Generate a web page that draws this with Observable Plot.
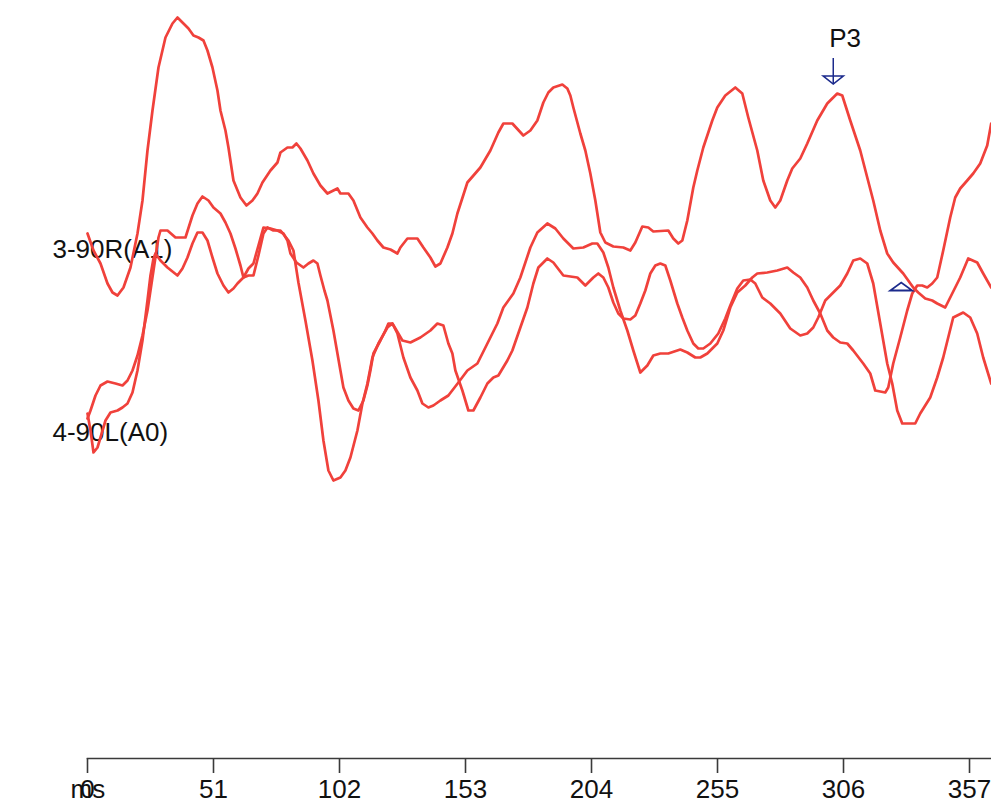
<!DOCTYPE html>
<html>
<head>
<meta charset="utf-8">
<script src="https://cdn.jsdelivr.net/npm/d3@7"></script>
<script src="https://cdn.jsdelivr.net/npm/@observablehq/plot@0.6"></script>
<style>
  html, body { margin: 0; padding: 0; background: #fff; overflow: hidden; }
  svg { display: block; }
</style>
</head>
<body>
<div id="chart"></div>
<script>
// ---- data ----
// sampling interval (ms per sample)
const SAMPLE_MS = 357 / 882.3;
const tickValues = [0, 51, 102, 153, 204, 255, 306, 357];
const axisUnit = "ms";
const channelLabels = ["3-90R(A1)", "4-90L(A0)"];
const channelOffsets = [0, -18.3];

// trace 1: 3-90R(A1)  (sample index, amplitude)
const samplesR = [0,6,13,20,25,30,36,43,50,55,60,65,71,78,85,90,96,101,106,111,116,120,125,130,133,138,141,146,153,159,165,170,175,183,190,193,200,205,209,213,220,226,233,240,246,250,253,261,266,273,280,285,290,296,303,310,313,320,326,330,336,343,348,353,360,365,370,380,393,403,411,416,425,436,443,450,456,461,466,475,480,483,486,493,498,503,508,513,518,526,536,543,548,555,561,566,581,586,591,595,600,606,610,616,625,630,638,648,655,661,670,676,683,688,693,700,705,713,720,730,740,750,755,763,773,780,786,793,800,806,816,826,831,838,845,850,858,865,873,881,890,896,904];
const ampR = [1.6,-0.1,-1.4,-3.4,-4.3,-4.6,-3.8,-1.8,1.6,4.9,9.9,13.9,18.2,21.2,22.6,23.2,22.6,22.1,21.4,21.2,20.9,19.9,18.2,15.9,13.9,11.9,10.2,6.9,5.2,4.4,4.9,5.6,6.7,7.9,8.7,9.7,10.2,10.2,10.6,10.1,8.9,7.6,6.4,5.6,5.9,6.1,5.6,5.6,4.9,3.2,2.2,1.6,0.9,0.2,0,-0.4,0.2,1.1,1.1,1.1,0.2,-0.8,-1.7,-1.4,0.2,1.6,3.6,6.7,8.2,9.9,11.7,12.6,12.6,11.4,11.9,12.9,14.7,15.7,16.2,16.5,16.1,15.4,14.2,11.6,9.9,7.6,4.9,1.7,0.7,0.3,0.2,-0.1,0.7,2.3,2.2,1.8,1.9,1.1,0.6,0.9,2.9,6.2,7.9,10.2,12.9,14.2,15.4,16.2,15.6,13.2,9.9,6.9,4.9,4.2,4.9,6.9,8.1,9.1,10.6,12.9,14.6,15.6,15.4,12.9,9.9,7.2,4.9,1.9,-0.4,-1.3,-2.4,-3.8,-4.3,-4.9,-5.1,-5.4,-5.8,-4.4,-2.8,-0.9,-1.3,-2.4,-3.8];

// trace 2: 4-90L(A0), first sweep
const samplesL1 = [0,3,8,13,20,28,35,40,45,50,55,60,63,66,69,71,73,80,88,98,105,110,115,121,126,133,138,143,148,153,156,161,166,171,176,180,186,193,201,206,211,218,225,231,236,241,246,253,258,263,270,275,280,285,291,300,305,310,316,323,330,335,341,346,353,361,371,380,390,400,410,416,426,433,443,450,460,468,476,486,496,505,510,516,521,526,533,540,546,553,560,566,573,581,593,600,608,613,620,630,636,643,650,658,665,670,680,690,700,706,713,720,726,733,740,746,753,760,766,776,783,788,798,801,806,813,820,825,830,835,840,845,850,856,863,868,873,880,886,893,900,904];
const ampL1 = [1.4,2.2,3.7,4.7,5.1,4.9,4.7,5.2,6.2,7.7,9.7,12.2,14.2,16.2,18.2,19.5,20.2,20.2,19.5,19.5,21.7,22.9,23.6,23.2,22.5,21.9,21.0,19.9,18.4,16.7,15.5,15.7,15.7,17.7,19.9,20.5,20.2,20.2,19.2,18.2,15.0,11.2,7.2,3.2,-0.8,-3.8,-4.8,-4.5,-3.8,-2.5,0.2,2.9,4.9,7.5,8.9,10.5,10.9,9.9,7.5,5.5,4.2,2.9,2.5,2.7,3.2,3.7,5.0,6.2,6.9,8.9,10.9,12.5,13.9,15.5,18.5,20.0,20.9,20.4,19.4,18.4,18.5,18.9,18.9,18.0,16.5,14.5,12.2,10.2,8.2,6.0,6.7,7.7,7.9,7.9,8.3,8.0,7.5,7.5,7.9,8.9,10.2,12.5,14.0,14.7,15.5,15.9,16.0,16.2,16.5,16.0,15.5,14.5,13.2,11.9,10.2,9.5,9.0,8.9,8.2,6.9,5.9,4.2,4.0,4.5,6.9,9.5,12.2,13.9,14.7,14.7,14.5,14.9,15.5,18.2,21.5,23.5,24.4,25.2,25.9,26.9,28.7,30.9];

// trace 3: 4-90L(A0), second sweep
const samplesL2 = [0,3,6,10,13,18,23,30,35,40,45,50,55,60,63,66,68,73,80,90,95,100,105,110,115,120,125,130,136,141,146,150,156,161,166,171,176,183,190,196,200,203,209,216,221,226,230,233,237,240,246,253,256,261,266,271,276,280,283,286,293,298,301,305,308,315,323,333,343,350,356,361,365,368,375,381,386,393,400,406,411,420,425,433,440,446,451,460,466,476,490,498,506,511,516,521,526,531,536,543,548,553,558,563,568,573,578,583,590,595,600,606,611,616,623,631,638,643,650,656,663,668,675,683,693,703,713,720,726,731,738,743,753,760,766,773,780,786,793,800,805,810,815,828,833,843,850,856,861,866,876,883,890,896,904];
const ampL2 = [1.9,0.2,-2.0,-1.5,-0.5,1.2,2.0,2.2,2.5,2.9,4.0,6.2,9.2,13.2,15.7,17.4,17.9,17.2,16.5,15.7,16.4,17.5,18.9,20.0,20.0,19.2,17.5,15.9,14.7,14.0,14.4,14.9,15.5,16.4,16.9,18.7,20.5,20.4,20.2,19.9,19.2,17.9,17.0,16.5,16.9,17.2,16.9,15.7,14.2,13.2,10.2,6.2,4.5,3.2,2.4,2.2,3.2,4.7,6.2,7.9,9.2,10.2,10.9,10.9,10.4,9.2,9.0,9.5,10.2,10.9,10.7,8.9,7.9,6.2,4.2,2.2,2.2,3.5,4.9,5.5,5.7,7.2,8.2,10.5,12.5,14.9,16.5,17.4,17.0,15.7,15.5,14.7,15.5,15.9,15.5,14.5,13.0,11.9,11.4,11.3,11.7,12.9,14.2,15.9,16.7,16.9,16.7,15.2,12.9,11.5,10.2,8.9,8.4,8.4,8.9,9.9,11.4,12.7,14.4,15.2,15.3,14.9,13.5,12.9,11.9,10.4,9.7,9.9,10.5,11.5,13.2,13.7,14.7,15.9,17.2,17.4,16.9,14.9,10.9,6.9,4.9,2.2,0.9,0.9,1.9,3.5,5.5,7.5,9.5,11.5,12.0,11.5,9.9,7.5,4.9];

// peak markers (on trace 1)
const markerLabels = ["P3", ""];
const markerSamples = [746, 814];
const markerAmps = [16.95, -3.7];
const markerDirections = ["down", "up"];

// ---- build ----
const toRows = (samples, amps, offset, id) =>
  samples.map((n, i) => ({id, t: n * SAMPLE_MS, v: amps[i] + offset}));

const traces = [
  ...toRows(samplesR, ampR, channelOffsets[0], "R"),
  ...toRows(samplesL1, ampL1, channelOffsets[1], "L1"),
  ...toRows(samplesL2, ampL2, channelOffsets[1], "L2")
];

const markers = markerSamples.map((n, i) => ({
  t: n * SAMPLE_MS, v: markerAmps[i], label: markerLabels[i], dir: markerDirections[i]
}));

const labelRows = channelLabels.map((label, i) => ({label, v: channelOffsets[i]}));

const triUp = {draw(ctx) { ctx.moveTo(-11, 4); ctx.lineTo(11, 4); ctx.lineTo(0, -4); ctx.closePath(); }};
const triDown = {draw(ctx) { ctx.moveTo(-10, -4); ctx.lineTo(10, -4); ctx.lineTo(0, 4); ctx.closePath(); }};

const RED = "#f0413b";
const NAVY = "#1b2a8c";
const FONT = "'Liberation Sans', Arial, Helvetica, sans-serif";

const chart = Plot.plot({
  width: 991,
  height: 803,
  marginLeft: 87,
  marginRight: 0,
  marginTop: 0,
  marginBottom: 45,
  style: {fontFamily: FONT, background: "#fff", overflow: "visible"},
  x: {domain: [0, 365.9], ticks: tickValues, tickFormat: d => String(d)},
  y: {domain: [-50.9, 24.9], axis: null},
  marks: [
    Plot.frame({anchor: "bottom", stroke: "#3a3a3a", strokeWidth: 1.6}),
    Plot.axisX({
      ticks: tickValues,
      tickSize: 15,
      tickPadding: 6,
      fontSize: 26,
      stroke: "#3a3a3a",
      strokeWidth: 1.6,
      fill: "#111",
      label: null
    }),
    Plot.text([axisUnit], {
      text: d => d,
      frameAnchor: "bottom-left",
      textAnchor: "start",
      lineAnchor: "top",
      dx: -17,
      dy: 21,
      fontSize: 26,
      fill: "#111"
    }),
    Plot.text(labelRows, {
      y: "v",
      text: "label",
      frameAnchor: "left",
      textAnchor: "start",
      dx: -35,
      fontSize: 26,
      fill: "#111"
    }),
    Plot.line(traces, {
      x: "t",
      y: "v",
      z: "id",
      stroke: RED,
      strokeWidth: 2.7,
      strokeLinejoin: "round",
      strokeLinecap: "round"
    }),
    Plot.ruleX(markers.filter(d => d.dir === "down"), {
      x: "t",
      y1: d => d.v - 0.35,
      y2: d => d.v + 2.15,
      stroke: NAVY,
      strokeWidth: 1.5
    }),
    Plot.dot(markers.filter(d => d.dir === "down"), {
      x: "t", y: "v", symbol: triDown, r: 4, stroke: NAVY, strokeWidth: 1.6, fill: "none"
    }),
    Plot.dot(markers.filter(d => d.dir === "up"), {
      x: "t", y: "v", symbol: triUp, r: 4, stroke: NAVY, strokeWidth: 1.8, fill: "none"
    }),
    Plot.text(markers.filter(d => d.label), {
      x: "t",
      y: d => d.v + 4.15,
      text: "label",
      textAnchor: "start",
      dx: -4,
      fontSize: 26,
      fill: "#111"
    })
  ]
});

document.getElementById("chart").appendChild(chart);
</script>
</body>
</html>
